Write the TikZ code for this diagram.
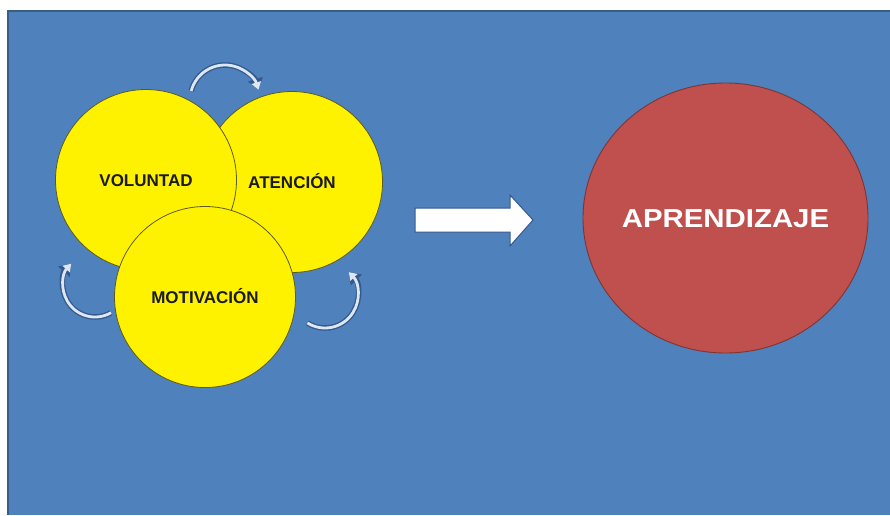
\documentclass[tikz,border=0pt]{standalone}
\usepackage{fontspec}
\setmainfont{Liberation Sans}
\usetikzlibrary{arrows.meta,shapes.geometric}
\definecolor{bgblue}{HTML}{4F81BD}
\definecolor{bgdark}{HTML}{385D8A}
\definecolor{circedge}{HTML}{5C5A1E}
\definecolor{textdark}{HTML}{1A1A1A}
\definecolor{redfill}{HTML}{C0504D}
\definecolor{rededge}{HTML}{7E3532}
\definecolor{arrowedge}{HTML}{34598C}
\definecolor{arrowlight}{HTML}{DCE7F3}
\begin{document}
\begin{tikzpicture}[x=1pt,y=-1pt,
  yc/.style={circle, fill=yellow, draw=circedge, line width=0.8pt, minimum size=181pt, inner sep=0pt,
    font=\bfseries\fontsize{17}{17}\selectfont, text=textdark, text height=12.2pt, text depth=0pt},
  goal/.style={ellipse, fill=redfill, draw=rededge, line width=0.9pt, minimum width=285pt, minimum height=270pt,
    inner sep=0pt},
  goaltext/.style={inner sep=0pt, font=\bfseries\fontsize{26}{26}\selectfont, text=white, text height=18.6pt, text depth=0pt},
  cycout/.style={draw=arrowedge, line width=5.5pt, -{Triangle[width=15pt,length=11pt]}},
  cycin/.style={draw=arrowlight, line width=2.8pt, -{Triangle[width=9.5pt,length=7.5pt]}},
  bigarrow/.style={fill=white, draw=arrowedge, line width=1pt, line join=miter}
]
\useasboundingbox (0,0) rectangle (890,515);
\fill[white] (0,0) rectangle (890,515);
\fill[bgblue] (7,10) rectangle (890,515);
\draw[bgdark, line width=2pt] (7.5,515) -- (7.5,10.5) -- (890,10.5);

% cycle circles
\node[yc] (aten) at (292,182) {ATENCIÓN};
\node[yc] (vol) at (146,180) {VOLUNTAD};
\node[yc] (mot) at (205,297) {MOTIVACIÓN};

% curved cycle arrows
\foreach \s in {cycout,cycin}{
  \draw[\s] (225,100) ++(-165:35) arc[start angle=-165, end angle=-17, radius=35];
  \draw[\s] (95,285) ++(60:32) arc[start angle=60, end angle=222, radius=32];
  \draw[\s] (325,295) ++(122:33) arc[start angle=122, end angle=-44, radius=33];
}

% big arrow
\draw[bigarrow] (415,208) -- (510,208) -- (510,195) -- (533,220) -- (510,246) -- (510,232) -- (415,232) -- cycle;

% goal
\node[goal] (apr) at (725.5,218) {};
\node[goaltext] (aprt) at (apr.center) {\scalebox{1.13}[1]{APRENDIZAJE}};
\end{tikzpicture}
\end{document}
